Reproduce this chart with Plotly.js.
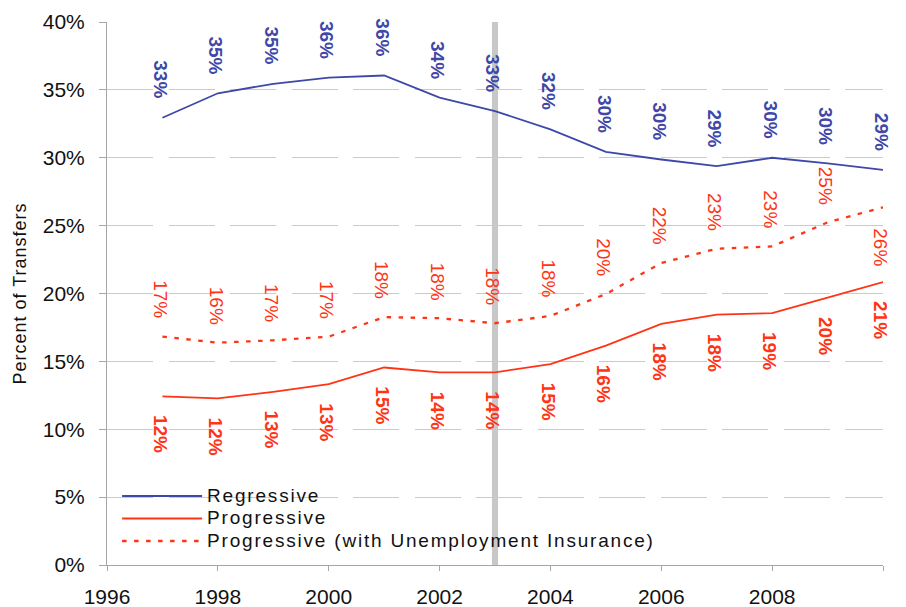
<!DOCTYPE html>
<html>
<head>
<meta charset="utf-8">
<script src="https://cdn.plot.ly/plotly-3.0.1.min.js"></script>
<style>
  html, body { margin: 0; padding: 0; background: #fff; }
  #chart { width: 906px; height: 607px; }
  /* legend rows are laid out at a compact size, then shown larger and spaced out */
  .legendtext { font-size: 19px !important; letter-spacing: 1.8px; }
  .ytitle { letter-spacing: 1px; }
</style>
</head>
<body>
<div id="chart"></div>
<script>
// Share of transfers by incidence, 1997-2010 (percent)
const years = [1997, 1998, 1999, 2000, 2001, 2002, 2003, 2004, 2005, 2006, 2007, 2008, 2009, 2010];
const regressive = [32.95, 34.75, 35.45, 35.9, 36.06, 34.43, 33.44, 32.09, 30.44, 29.87, 29.38, 30.0, 29.58, 29.11];
const progressive = [12.42, 12.27, 12.76, 13.33, 14.55, 14.19, 14.19, 14.8, 16.16, 17.76, 18.45, 18.55, 19.7, 20.84];
const progressiveUI = [16.82, 16.38, 16.55, 16.82, 18.26, 18.18, 17.81, 18.35, 19.96, 22.25, 23.3, 23.47, 25.24, 26.35];
const seriesNames = ['Regressive', 'Progressive', 'Progressive (with Unemployment Insurance)'];
const xTicks = [1996, 1998, 2000, 2002, 2004, 2006, 2008, 2010];
const markerYear = 2003;

const BLUE = '#3F47A8';
const RED = '#FF3414';
const FONT = 'Liberation Sans, Arial, sans-serif';

const traces = [
  { x: years, y: regressive, name: seriesNames[0], mode: 'lines',
    line: { color: BLUE, width: 1.8 } },
  { x: years, y: progressive, name: seriesNames[1], mode: 'lines',
    line: { color: RED, width: 1.8 } },
  { x: years, y: progressiveUI, name: seriesNames[2], mode: 'lines',
    line: { color: RED, width: 2.3, dash: '4.5px,7.5px' } }
];

// Rotated value labels for each point
function labels(values, color, bold, shiftFor) {
  return values.map((v, i) => ({
    x: years[i], y: v, xref: 'x', yref: 'y',
    text: Math.round(v) + '%',
    showarrow: false, textangle: 90,
    xanchor: 'center', yanchor: 'middle',
    yshift: shiftFor(i), xshift: -2,
    font: { family: FONT, size: 19, color: color, weight: bold ? 'bold' : 'normal' }
  }));
}
const last = years.length - 1;
const annotations = [].concat(
  labels(regressive, BLUE, true, () => 38),
  labels(progressive, RED, true, () => -38),
  labels(progressiveUI, RED, false, i => (i === last ? -40 : 37))
);

const layout = {
  width: 906, height: 607,
  margin: { l: 107, r: 23, t: 22, b: 42 },
  paper_bgcolor: '#fff', plot_bgcolor: '#fff',
  font: { family: FONT, color: '#111' },
  showlegend: true,
  legend: {
    x: 0.013, xanchor: 'left', y: 0.157, yanchor: 'top',
    bgcolor: 'rgba(0,0,0,0)', borderwidth: 0,
    font: { family: FONT, size: 15, color: '#111' },
    itemwidth: 80, tracegroupgap: 0
  },
  xaxis: {
    range: [1996, 2010], tickvals: xTicks, ticktext: xTicks.map(String),
    showgrid: false, zeroline: false,
    showline: true, linecolor: '#a6a6a6', linewidth: 1,
    ticks: 'outside', ticklen: 5, tickcolor: '#a6a6a6',
    ticklabelstandoff: 8,
    tickfont: { family: FONT, size: 21, color: '#111' }
  },
  yaxis: {
    range: [0, 40], dtick: 5, ticksuffix: '%',
    showgrid: true, gridcolor: '#cacaca', gridwidth: 1, griddash: '46px,15.5px',
    zeroline: false,
    showline: true, linecolor: '#a6a6a6', linewidth: 1,
    ticks: 'outside', ticklen: 7, tickcolor: '#a6a6a6',
    ticklabelstandoff: 10,
    tickfont: { family: FONT, size: 21, color: '#111' },
    title: { text: 'Percent of Transfers', standoff: 11,
             font: { family: FONT, size: 18, color: '#111' } }
  },
  shapes: [
    // clear the grid behind the legend block
    { type: 'rect', xref: 'paper', yref: 'y', x0: 0.004, x1: 0.75, y0: 3.5, y1: 6.5,
      fillcolor: '#fff', line: { width: 0 }, layer: 'between' },
    // vertical marker bar
    { type: 'rect', xref: 'x', yref: 'y', x0: markerYear - 0.055, x1: markerYear + 0.055,
      y0: 0, y1: 40, fillcolor: '#c8c8c8', line: { width: 0 }, layer: 'between' }
  ],
  annotations: annotations
};

Plotly.newPlot('chart', traces, layout, { displayModeBar: false, staticPlot: true });
</script>
</body>
</html>
